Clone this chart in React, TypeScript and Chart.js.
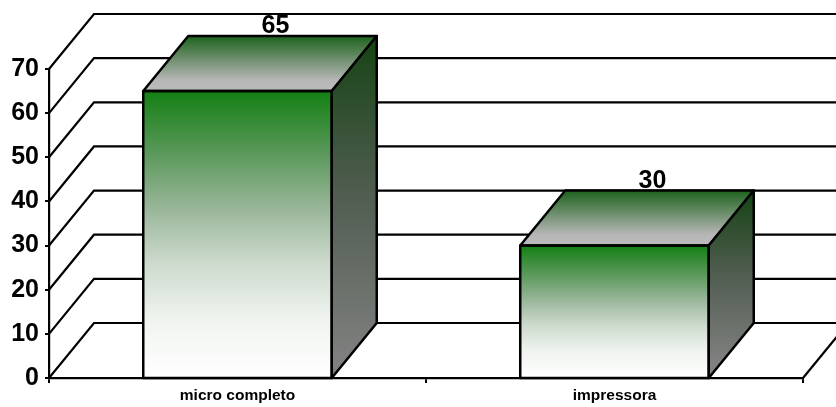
import React, { useEffect, useRef } from "react";
import { Chart, registerables } from "chart.js";

Chart.register(...registerables);

const categories = ["micro completo", "impressora"];
const values = [65, 30];
const yMax = 70;
const yStep = 10;

const FONT = '"Liberation Sans", Arial, sans-serif';
const DEPTH_X = 45;
const DEPTH_Y = 55;
const LINE = "#000000";

const depthPlugin = {
  id: "depth3d",
  beforeDatasetsDraw(chart: any) {
    const { ctx, scales, chartArea, width } = chart;
    const y = scales.y;
    const left = chartArea.left;
    ctx.save();
    ctx.strokeStyle = LINE;
    ctx.lineWidth = 2.2;
    ctx.lineJoin = "miter";
    for (const t of y.ticks) {
      const py = y.getPixelForValue(t.value);
      ctx.beginPath();
      ctx.moveTo(left, py);
      ctx.lineTo(left + DEPTH_X, py - DEPTH_Y);
      ctx.lineTo(width + 2, py - DEPTH_Y);
      ctx.stroke();
    }
    const y0 = y.getPixelForValue(0);
    ctx.beginPath();
    ctx.moveTo(chartArea.right, y0);
    ctx.lineTo(chartArea.right + DEPTH_X, y0 - DEPTH_Y);
    ctx.stroke();
    ctx.restore();
  },
  afterDatasetsDraw(chart: any) {
    const { ctx, scales } = chart;
    const meta = chart.getDatasetMeta(0);
    const y0 = scales.y.getPixelForValue(0);
    ctx.save();
    ctx.strokeStyle = LINE;
    ctx.lineWidth = 2.5;
    ctx.lineJoin = "round";
    meta.data.forEach((bar: any, i: number) => {
      const l = bar.x - bar.width / 2;
      const r = bar.x + bar.width / 2;
      const top = bar.y;

      const topGrad = ctx.createLinearGradient(0, top - DEPTH_Y, 0, top);
      topGrad.addColorStop(0, "#1e631e");
      topGrad.addColorStop(0.8, "#b6b6b6");
      topGrad.addColorStop(1, "#bcbcbc");
      ctx.beginPath();
      ctx.moveTo(l, top);
      ctx.lineTo(l + DEPTH_X, top - DEPTH_Y);
      ctx.lineTo(r + DEPTH_X, top - DEPTH_Y);
      ctx.lineTo(r, top);
      ctx.closePath();
      ctx.fillStyle = topGrad;
      ctx.fill();
      ctx.stroke();

      const sideGrad = ctx.createLinearGradient(0, top - DEPTH_Y, 0, y0 - 15);
      sideGrad.addColorStop(0, "#164314");
      sideGrad.addColorStop(0.5, "#525e52");
      sideGrad.addColorStop(1, "#808080");
      ctx.beginPath();
      ctx.moveTo(r, top);
      ctx.lineTo(r + DEPTH_X, top - DEPTH_Y);
      ctx.lineTo(r + DEPTH_X, y0 - DEPTH_Y);
      ctx.lineTo(r, y0);
      ctx.closePath();
      ctx.fillStyle = sideGrad;
      ctx.fill();
      ctx.stroke();

      ctx.strokeRect(l, top, r - l, y0 - top);

      ctx.fillStyle = "#000000";
      ctx.font = `bold 25px ${FONT}`;
      ctx.textAlign = "center";
      ctx.textBaseline = "alphabetic";
      ctx.fillText(String(values[i]), bar.x + 38, top - 58);
    });
    ctx.restore();
  },
};

export default function App() {
  const ref = useRef<HTMLCanvasElement | null>(null);

  useEffect(() => {
    if (!ref.current) return;
    const chart = new Chart(ref.current, {
      type: "bar",
      data: {
        labels: categories,
        datasets: [
          {
            data: values,
            categoryPercentage: 1,
            barPercentage: 0.5,
            borderWidth: 0,
            backgroundColor: (c: any) => {
              const s = c.chart.scales?.y;
              if (!s || !c.chart.chartArea || typeof c.raw !== "number") return "#1e841e";
              const g = c.chart.ctx.createLinearGradient(0, s.getPixelForValue(c.raw), 0, s.getPixelForValue(0));
              g.addColorStop(0, "#138013");
              g.addColorStop(0.2, "#559655");
              g.addColorStop(0.4, "#96b496");
              g.addColorStop(0.6, "#cddacd");
              g.addColorStop(0.8, "#f0f4f0");
              g.addColorStop(1, "#ffffff");
              return g;
            },
          },
        ],
      },
      options: {
        responsive: false,
        animation: false,
        events: [],
        layout: { padding: { top: 69, right: 33, left: 0, bottom: 0 } },
        plugins: { legend: { display: false }, title: { display: false }, tooltip: { enabled: false } },
        scales: {
          x: {
            grid: { offset: true, drawOnChartArea: false, color: LINE, lineWidth: 2, tickLength: 5, tickColor: LINE },
            border: { color: LINE, width: 2.2 },
            ticks: {
              color: "#000000",
              font: { family: FONT, size: 15.5, weight: "bold" },
              padding: 3,
              maxRotation: 0,
            },
            afterFit: (s: any) => {
              s.height = 29;
            },
          },
          y: {
            min: 0,
            max: yMax,
            grid: { drawOnChartArea: false, color: LINE, lineWidth: 2, tickLength: 4, tickColor: LINE },
            border: { color: LINE, width: 2.2 },
            ticks: {
              stepSize: yStep,
              color: "#000000",
              font: { family: FONT, size: 25, weight: "bold" },
              padding: 6,
            },
            afterFit: (s: any) => {
              s.width = 49;
            },
          },
        },
      },
      plugins: [depthPlugin],
    } as any);
    return () => chart.destroy();
  }, []);

  return (
    <div style={{ position: "absolute", left: 0, top: 0, width: 836, height: 407, background: "#fff" }}>
      <canvas ref={ref} width={836} height={407} style={{ display: "block" }} />
    </div>
  );
}
